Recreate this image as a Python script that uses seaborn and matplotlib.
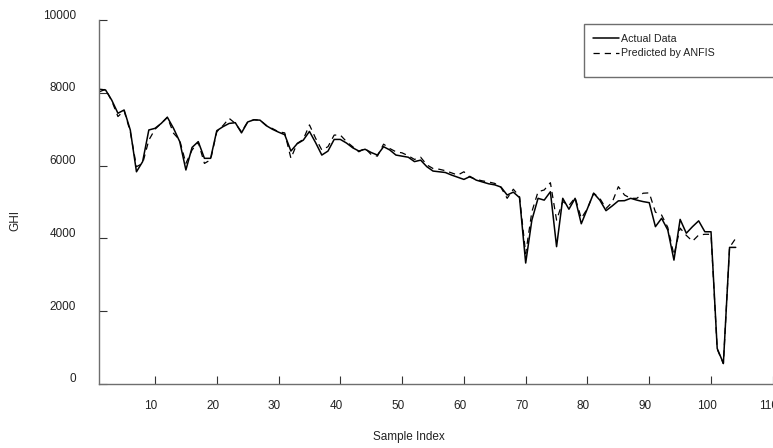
import numpy as np
import pandas as pd
import matplotlib
matplotlib.use("Agg")
import matplotlib.pyplot as plt
import matplotlib.transforms as mtransforms
from matplotlib.patches import Rectangle
import seaborn as sns
from matplotlib import font_manager

sample_index = list(range(1, 105))

actual = [8100, 8080, 7800, 7440, 7530, 6980, 5830, 6110, 6980, 7025,
          7160, 7330, 7025, 6660, 5880, 6500, 6660, 6200, 6200, 6960,
          7070, 7160, 7180, 6900, 7200, 7260, 7250, 7100, 7000, 6920,
          6850, 6400, 6600, 6700, 6940, 6630, 6290, 6400, 6720, 6720,
          6620, 6490, 6400, 6450, 6360, 6290, 6520, 6430, 6290, 6260,
          6230, 6110, 6150, 5970, 5850, 5830, 5810, 5740, 5680, 5620,
          5700, 5600, 5550, 5500, 5470, 5410, 5190, 5270, 5120, 3320,
          4500, 5100, 5050, 5280, 3770, 5100, 4800, 5100, 4400, 4820,
          5240, 5050, 4760, 4890, 5030, 5035, 5100, 5050, 5010, 4980,
          4320, 4550, 4230, 3400, 4520, 4140, 4320, 4480, 4180, 4180,
          970, 560, 3750, 3750]

predicted = [8030, 8100, 7780, 7350, 7510, 6930, 5970, 6060, 6700, 7000,
             7160, 7330, 6890, 6700, 6060, 6430, 6640, 6060, 6160, 6930,
             7100, 7300, 7160, 6930, 7200, 7260, 7250, 7110, 7020, 6930,
             6900, 6200, 6610, 6720, 7120, 6750, 6430, 6520, 6840, 6840,
             6660, 6520, 6380, 6480, 6300, 6260, 6590, 6470, 6380, 6350,
             6270, 6170, 6230, 6020, 5920, 5900, 5860, 5800, 5740, 5830,
             5680, 5620, 5580, 5550, 5510, 5400, 5100, 5350, 5150, 3580,
             4730, 5280, 5330, 5530, 4500, 5010, 4900, 5120, 4550, 4820,
             5240, 5100, 4820, 4990, 5420, 5190, 5100, 5100, 5240, 5250,
             4720, 4640, 4300, 3540, 4280, 4080, 3920, 4090, 4110, 4110,
             950, 550, 3750, 4000]

x_ticks = [10, 20, 30, 40, 50, 60, 70, 80, 90, 100, 110]
y_ticks = [0, 2000, 4000, 6000, 8000, 10000]
series_labels = ["Actual Data", "Predicted by ANFIS"]

sns.set_style("ticks")
avail = {f.name for f in font_manager.fontManager.ttflist}
fam = ["Liberation Sans Narrow"] if "Liberation Sans Narrow" in avail else ["Liberation Sans"]
plt.rcParams["font.family"] = fam + ["DejaVu Sans"]
narrow = "Liberation Sans Narrow" in avail
fs = 10 if narrow else 8.5

W, H = 773, 448
fig = plt.figure(figsize=(W / 100, H / 100), dpi=100)
ax_l, ax_r, ax_b, ax_t = 99.4, 772.8, 383.7, 20.2
ax = fig.add_axes([ax_l / W, 1 - ax_b / H, (ax_r - ax_l) / W, (ax_b - ax_t) / H])

df = pd.DataFrame({"idx": sample_index, "actual": actual, "pred": predicted})
sns.lineplot(data=df, x="idx", y="actual", ax=ax, color="black", lw=1.1,
             label=series_labels[0])
sns.lineplot(data=df, x="idx", y="pred", ax=ax, color="black", lw=0.9,
             dashes=False, label=series_labels[1])
ax.lines[1].set_linestyle((0, (5, 4)))

ax.set_xlim(1, 110)
ax.set_ylim(0, 10000)
ax.set_xticks(x_ticks)
ax.set_yticks(y_ticks)
ax.set_xticklabels([str(t) for t in x_ticks])
ax.set_yticklabels([str(t) for t in y_ticks])

for s in ["top", "right"]:
    ax.spines[s].set_visible(False)
for s in ["left", "bottom"]:
    ax.spines[s].set_color("#6e6e6e")
    ax.spines[s].set_linewidth(1.0)
ax.tick_params(axis="both", direction="in", length=6, width=0.8, color="#333333",
               labelsize=fs, labelcolor="#222222")
ax.tick_params(axis="y", pad=17)
ax.tick_params(axis="x", pad=12)

dx = mtransforms.ScaledTranslation(-4 / 100, 0, fig.dpi_scale_trans)
for lab in ax.get_xticklabels():
    lab.set_transform(lab.get_transform() + dx)
dy = mtransforms.ScaledTranslation(0, 6 / 100, fig.dpi_scale_trans)
for lab in ax.get_yticklabels():
    lab.set_transform(lab.get_transform() + dy)

ax.set_xlabel("Sample Index", fontsize=fs, color="#222222")
ax.set_ylabel("GHI", fontsize=fs, color="#222222")
ax.xaxis.set_label_coords((409 - ax_l) / (ax_r - ax_l), (ax_b - 437) / (ax_b - ax_t))
ax.xaxis.label.set_va("center")
ax.yaxis.set_label_coords((15 - ax_l) / (ax_r - ax_l), (ax_b - 221) / (ax_b - ax_t))
ax.yaxis.label.set_va("center")

leg = ax.legend(loc="upper left", bbox_to_anchor=(584 / W, 1 - 25 / H),
                bbox_transform=fig.transFigure, frameon=False,
                fontsize=fs - 0.8, handlelength=2.5, handletextpad=0.15,
                labelspacing=0.45, borderpad=0.3)
for t in leg.get_texts():
    t.set_color("#222222")
fig.patches.append(Rectangle((584 / W, 1 - 77 / H), (W + 5 - 584) / W, (77 - 24) / H,
                             transform=fig.transFigure, fill=False,
                             edgecolor="#6e6e6e", lw=1.0))

fig.savefig("out.png", dpi=100, facecolor="white")
